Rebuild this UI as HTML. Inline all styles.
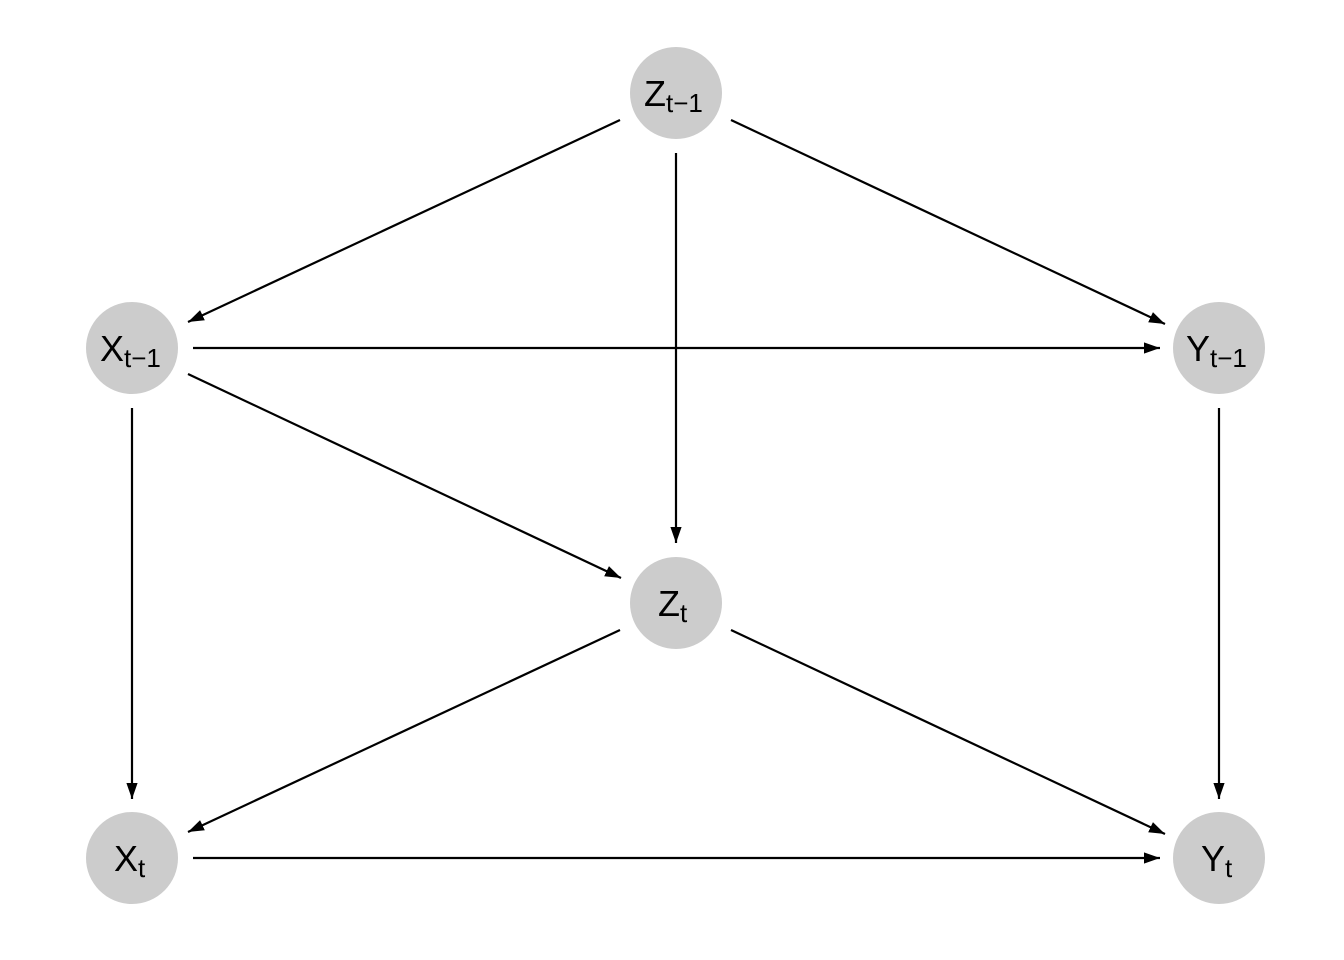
<!DOCTYPE html>
<html><head><meta charset="utf-8"><style>
html,body{margin:0;padding:0;background:#fff;}
svg{display:block}
text{font-family:"Liberation Sans",Arial,sans-serif;fill:#000}
</style></head><body>
<svg width="1344" height="960" viewBox="0 0 1344 960" xmlns="http://www.w3.org/2000/svg">
<defs>
<marker id="a" viewBox="0 0 10 10" refX="10" refY="5" markerWidth="16" markerHeight="16" markerUnits="userSpaceOnUse" orient="auto">
<path d="M0,1.5 L10,5 L0,8.5 Z" fill="#000"/>
</marker>
</defs>
<g fill="#cccccc">
<circle cx="676" cy="93" r="46"/>
<circle cx="132" cy="348" r="46"/>
<circle cx="1219" cy="348" r="46"/>
<circle cx="676" cy="603" r="46"/>
<circle cx="132" cy="858" r="46"/>
<circle cx="1219" cy="858" r="46"/>
</g>
<g stroke="#000" stroke-width="2.2" marker-end="url(#a)" fill="none">
<line x1="620" y1="120" x2="188" y2="322"/>
<line x1="676" y1="153" x2="676" y2="543"/>
<line x1="731" y1="120" x2="1165" y2="324"/>
<line x1="193" y1="348" x2="1160" y2="348"/>
<line x1="188" y1="374" x2="621" y2="578"/>
<line x1="132" y1="408" x2="132" y2="799"/>
<line x1="1219" y1="408" x2="1219" y2="799"/>
<line x1="620" y1="630" x2="188" y2="832"/>
<line x1="731" y1="630" x2="1165" y2="834"/>
<line x1="193" y1="858" x2="1160" y2="858"/>
</g>
<g font-size="36">
<text x="644" y="106">Z<tspan font-size="26" dy="6">t−1</tspan></text>
<text x="100" y="361">X<tspan font-size="26" dy="6">t−1</tspan></text>
<text x="1186" y="361">Y<tspan font-size="26" dy="6">t−1</tspan></text>
<text x="658" y="616">Z<tspan font-size="26" dy="6">t</tspan></text>
<text x="114" y="871">X<tspan font-size="26" dy="6">t</tspan></text>
<text x="1201" y="871">Y<tspan font-size="26" dy="6">t</tspan></text>
</g>
</svg>
</body></html>
